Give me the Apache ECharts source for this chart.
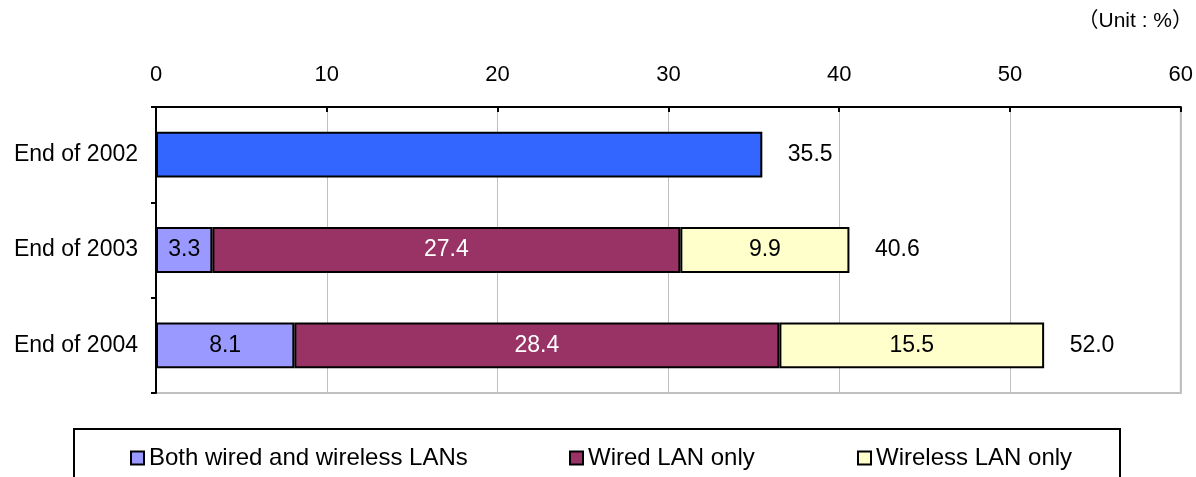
<!DOCTYPE html>
<html><head><meta charset="utf-8">
<script src="https://cdn.jsdelivr.net/npm/echarts@6/dist/echarts.min.js"></script>
<style>html,body{margin:0;padding:0;background:#fff}#c{width:1196px;height:477px}</style>
</head><body><div id="c"></div>
<script>
const categories = ['End of 2002', 'End of 2003', 'End of 2004'];
const total2002 = [35.5, '-', '-'];
const bothLAN = ['-', 3.3, 8.1];
const wiredOnly = ['-', 27.4, 28.4];
const wirelessOnly = ['-', 9.9, 15.5];
const totals = ['35.5', '40.6', '52.0'];
const xTicks = [0, 10, 20, 30, 40, 50, 60];
const legendNames = ['Both wired and wireless LANs', 'Wired LAN only', 'Wireless LAN only'];

const FONT = 'Liberation Sans, Arial, Noto Sans CJK JP, sans-serif';
const chart = echarts.init(document.getElementById('c'), null, {renderer: 'canvas'});
const barBorder = {borderColor: '#000', borderWidth: 2};
const lblBase = {show: true, position: 'inside', fontSize: 23, fontFamily: FONT};

const legendItem = (name, left) => ({
  data: [name], left: left, top: 441, itemWidth: 13, itemHeight: 13, itemGap: 0,
  icon: 'rect', selectedMode: false,
  itemStyle: {borderColor: '#000', borderWidth: 2},
  textStyle: {fontSize: 24, fontFamily: FONT, color: '#000', padding: [0, 0, 0, 0]}
});

chart.setOption({
  animation: false,
  backgroundColor: '#fff',
  grid: {left: 156, right: 14, top: 107, bottom: 84, show: true, borderColor: '#c0c0c0', borderWidth: 2},
  graphic: [
    {type: 'rect', shape: {x: 74, y: 429, width: 1046, height: 70}, style: {fill: 'none', stroke: '#000', lineWidth: 2}, z: 0},
    {type: 'text', right: 3, top: 11, style: {text: '（Unit : %）', fontSize: 21, fontFamily: FONT, fill: '#000'}}
  ],
  legend: [
    legendItem(legendNames[0], 125),
    legendItem(legendNames[1], 564),
    legendItem(legendNames[2], 852)
  ],
  xAxis: {
    type: 'value', position: 'top', min: 0, max: 60, interval: 10,
    axisLine: {show: true, lineStyle: {color: '#000', width: 2}},
    axisTick: {show: true, inside: true, length: 5, lineStyle: {color: '#000', width: 2}},
    axisLabel: {fontSize: 22, fontFamily: FONT, color: '#000', margin: 21,
      formatter: v => xTicks.includes(v) ? String(v) : ''},
    splitLine: {show: true, lineStyle: {color: '#c0c0c0', width: 1}}
  },
  yAxis: {
    type: 'category', data: categories, inverse: true,
    axisLine: {show: true, lineStyle: {color: '#000', width: 2}},
    axisTick: {show: true, length: 5, lineStyle: {color: '#000', width: 2}},
    axisLabel: {fontSize: 23, fontFamily: FONT, color: '#000', margin: 18}
  },
  series: [
    {name: 'Total 2002', type: 'bar', stack: 's', data: total2002, barWidth: '48%',
      itemStyle: Object.assign({color: '#3366FF'}, barBorder), label: {show: false}},
    {name: legendNames[0], type: 'bar', stack: 's', data: bothLAN, barWidth: '48%',
      itemStyle: Object.assign({color: '#9999FF'}, barBorder), label: Object.assign({color: '#000'}, lblBase)},
    {name: legendNames[1], type: 'bar', stack: 's', data: wiredOnly, barWidth: '48%',
      itemStyle: Object.assign({color: '#993366'}, barBorder), label: Object.assign({color: '#fff'}, lblBase)},
    {name: legendNames[2], type: 'bar', stack: 's', data: wirelessOnly, barWidth: '48%',
      itemStyle: Object.assign({color: '#FFFFCC'}, barBorder), label: Object.assign({color: '#000'}, lblBase)},
    {name: 'Totals', type: 'scatter', symbolSize: 1, itemStyle: {color: 'rgba(0,0,0,0)', opacity: 1},
      data: totals.map((t, i) => ({value: [parseFloat(t), categories[i]], text: t})),
      label: {show: true, position: 'right', distance: 25, fontSize: 23, fontFamily: FONT, color: '#000',
        formatter: p => p.data.text}}
  ]
});
</script></body></html>
